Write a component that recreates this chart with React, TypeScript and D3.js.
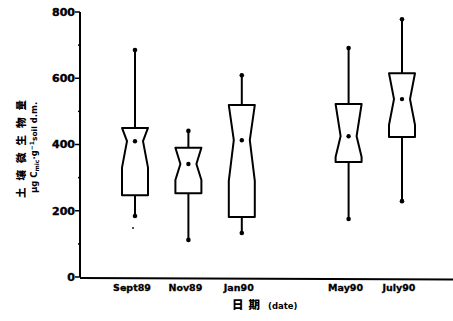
import React from "react";
import * as d3 from "d3";

// box-plot values (soil microbial biomass, μg C / g soil)
const categories = ["Sept89", "Nov89", "Jan90", "May90", "July90"];
const monthIndex = [0, 2, 4, 8, 10]; // months after Sept89
const whiskerHigh = [685, 441, 609, 691, 778];
const q3 = [450, 390, 519, 522, 615];
const median = [410, 341, 413, 425, 537];
const q1 = [247, 253, 181, 347, 423];
const whiskerLow = [184, 112, 133, 175, 229];
const notchHigh = [450, 390, 519, 522, 615];
const notchLow = [330, 293, 290, 362, 459];
const outliers = [{ cat: 0, value: 148 }];
const yTicks = [0, 200, 400, 600, 800];
const yMinorTicks = [100, 300, 500, 700];

const W = 453;
const H = 321;

const App = () => {
  const y = d3.scaleLinear().domain([0, 800]).range([277, 12]);
  const x = d3.scaleLinear().domain([0, 10]).range([135, 402]);
  const halfW = 13;
  const narrowW = 8;
  const font = "'DejaVu Sans', 'Liberation Sans', sans-serif";

  const boxPath = (i: number) => {
    const cx = x(monthIndex[i]);
    const pts: [number, number][] = [
      [cx - halfW, y(q3[i])],
      [cx - halfW, y(notchHigh[i])],
      [cx - narrowW, y(median[i])],
      [cx - halfW, y(notchLow[i])],
      [cx - halfW, y(q1[i])],
      [cx + halfW, y(q1[i])],
      [cx + halfW, y(notchLow[i])],
      [cx + narrowW, y(median[i])],
      [cx + halfW, y(notchHigh[i])],
      [cx + halfW, y(q3[i])],
    ];
    return d3.line()(pts) + "Z";
  };

  return (
    <div style={{ position: "fixed", left: 0, top: 0 }}>
      <svg width={W} height={H} style={{ display: "block", background: "#fff" }}>
        {/* y axis */}
        <line x1={80} x2={80} y1={y(800)} y2={y(0)} stroke="#000" strokeWidth={2} />
        {yTicks.map((t) => (
          <g key={t}>
            <line x1={75} x2={80} y1={y(t)} y2={y(t)} stroke="#000" strokeWidth={1.5} />
            <text
              x={75}
              y={y(t)}
              dy="0.35em"
              textAnchor="end"
              fontFamily={font}
              fontWeight="bold"
              fontSize={11}
              stroke="#000"
              strokeWidth={0.4}
            >
              {t}
            </text>
          </g>
        ))}
        {yMinorTicks.map((t) => (
          <line key={t} x1={78} x2={81} y1={y(t)} y2={y(t)} stroke="#000" strokeWidth={1.5} />
        ))}
        {/* x axis */}
        <line x1={80} x2={453} y1={278} y2={279.5} stroke="#000" strokeWidth={2} />
        {categories.map((c, i) => (
          <text
            key={c}
            x={x(monthIndex[i]) - 3}
            y={288}
            dy="0.35em"
            textAnchor="middle"
            fontFamily={font}
            fontWeight="bold"
            fontSize={9.5}
            stroke="#000"
            strokeWidth={0.3}
          >
            {c}
          </text>
        ))}
        <text x={232} y={309} fontFamily={font} fontWeight="bold">
          <tspan
            fontSize={11.5}
            fontFamily="'Noto Sans CJK SC', sans-serif"
            fontWeight={900}
            letterSpacing={5}
          >
            日期
          </tspan>
          <tspan dx={3} fontSize={8.5}>(date)</tspan>
        </text>

        {/* y axis title */}
        <text
          transform="translate(25,198) rotate(-90)"
          fontFamily="'Noto Sans CJK SC', sans-serif"
          fontWeight={900}
          fontSize={10.5}
          letterSpacing={7}
        >
          土壤微生物量
        </text>
        <text transform="translate(37,193) rotate(-90)" fontFamily={font} fontWeight="bold" fontSize={8.5}>
          <tspan>μg C</tspan>
          <tspan fontSize={6} dy={2}>mic</tspan>
          <tspan dy={-2}>·g</tspan>
          <tspan fontSize={6} dy={-3}>−1</tspan>
          <tspan fontSize={7.5} dy={3}>soil</tspan>
          <tspan dx={3}>d.m.</tspan>
        </text>

        {/* boxes */}
        {categories.map((c, i) => {
          const cx = x(monthIndex[i]);
          return (
            <g key={c}>
              <line x1={cx} x2={cx} y1={y(whiskerHigh[i])} y2={y(q3[i])} stroke="#000" strokeWidth={2} />
              <line x1={cx} x2={cx} y1={y(q1[i])} y2={y(whiskerLow[i])} stroke="#000" strokeWidth={2} />
              <path d={boxPath(i)} fill="#fff" stroke="#000" strokeWidth={2} strokeLinejoin="round" />
              <circle cx={cx} cy={y(whiskerHigh[i])} r={2.3} fill="#000" />
              <circle cx={cx} cy={y(whiskerLow[i])} r={2.3} fill="#000" />
              <circle cx={cx} cy={y(median[i])} r={2.2} fill="#000" />
            </g>
          );
        })}
        {outliers.map((o, k) => (
          <circle key={k} cx={x(monthIndex[o.cat]) - 2} cy={y(o.value)} r={0.9} fill="#000" />
        ))}
      </svg>
    </div>
  );
};

export default App;
